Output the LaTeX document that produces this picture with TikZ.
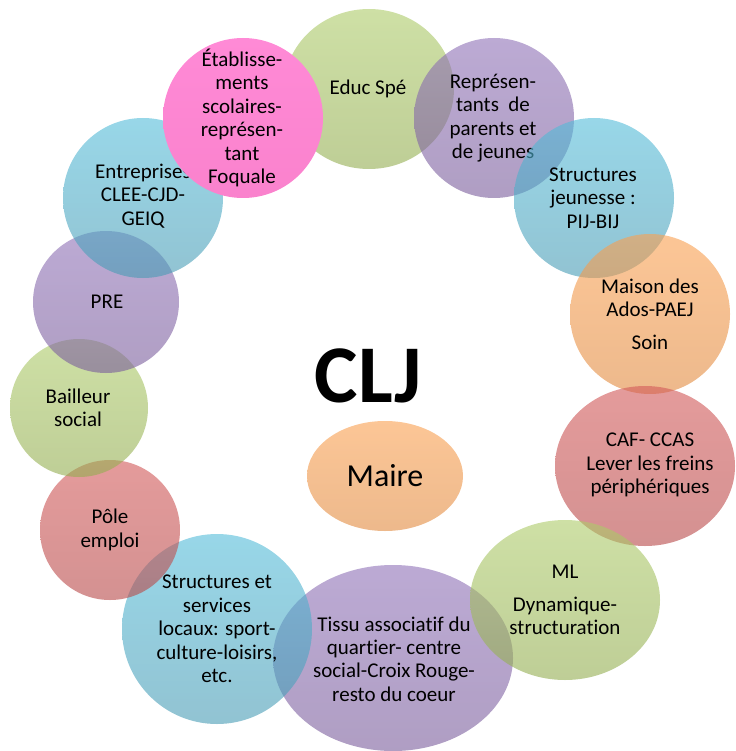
\documentclass[tikz,border=0pt]{standalone}
\usepackage{fontspec}
\setmainfont{Carlito}[Ligatures=NoCommon]
\definecolor{grnTop}{RGB}{173,203,105}
\definecolor{grnBot}{RGB}{147,173,80}
\definecolor{purTop}{RGB}{143,113,183}
\definecolor{purBot}{RGB}{122,93,155}
\definecolor{bluTop}{RGB}{83,188,217}
\definecolor{bluBot}{RGB}{72,155,180}
\definecolor{orgTop}{RGB}{250,160,80}
\definecolor{orgBot}{RGB}{225,138,63}
\definecolor{redTop}{RGB}{210,88,88}
\definecolor{redBot}{RGB}{183,72,72}
\definecolor{pnkTop}{RGB}{255,138,214}
\definecolor{pnkBot}{RGB}{250,130,205}
\begin{document}
\begin{tikzpicture}[x=1pt, y=-1pt,
    blob/.style={fill opacity=0.6},
    green/.style={blob, top color=grnTop, bottom color=grnBot},
    purple/.style={blob, top color=purTop, bottom color=purBot},
    blue/.style={blob, top color=bluTop, bottom color=bluBot},
    orange/.style={blob, top color=orgTop, bottom color=orgBot},
    red/.style={blob, top color=redTop, bottom color=redBot},
    lbl/.style={align=center, inner sep=0pt, font=\fontsize{21}{23.4}\selectfont}]
  \useasboundingbox (0,0) rectangle (735,751);

  % cercle du haut
  \shade[green] (369,89) ellipse (85 and 80);
  \node[lbl] (educ) at (368,89) {Educ Spé};

  \shade[purple] (494,118) ellipse (80 and 80);
  \node[lbl] (parents) at (493,118) {Représen-\\tants~ de\\parents et\\de jeunes};

  \shade[blue] (594,198) ellipse (80 and 80);
  \node[lbl] (jeunesse) at (593,198) {Structures\\jeunesse :\\PIJ-BIJ};

  \shade[orange] (650,314) ellipse (80 and 80);
  \node[lbl] (ados) at (650,314) {Maison des\\Ados-PAEJ\\[9pt]Soin};

  \shade[red] (645,466) ellipse (90 and 80);
  \node[lbl] (caf) at (650,465) {CAF- CCAS\\Lever les freins\\périphériques};

  % bas
  \shade[purple] (393,658) ellipse (120 and 93);
  \node[lbl] (tissu) at (394,659) {Tissu associatif du\\quartier- centre\\social-Croix Rouge-\\resto du coeur};

  \shade[green] (565,600) ellipse (95 and 80);
  \node[lbl] (ml) at (565,600) {ML\\[9pt]Dynamique-\\structuration};

  \shade[blue] (217,629) ellipse (95 and 95);
  \node[lbl] (locaux) at (217,629) {Structures et\\services\\locaux: sport-\\culture-loisirs,\\etc.};

  % gauche
  \shade[red] (110,530) ellipse (70 and 70);
  \node[lbl] (pole) at (110,530) {Pôle\\emploi};

  \shade[green] (79,408) ellipse (69 and 69);
  \node[lbl] (bailleur) at (78,408) {Bailleur\\social};

  \shade[purple] (106,302) ellipse (73 and 71);
  \node[lbl] (pre) at (107,302) {PRE};

  \shade[blue] (143,198) ellipse (80 and 80);
  \node[lbl] (entreprises) at (143,196) {Entreprises\\CLEE-CJD-\\GEIQ};

  \shade[top color=pnkTop, bottom color=pnkBot] (243,118) ellipse (80 and 80);
  \node[lbl] (etab) at (242,118) {Établisse-\\ments\\scolaires-\\représen-\\tant\\Foquale};

  % centre
  \node[anchor=base, font=\fontsize{82}{90}\selectfont\bfseries] (clj) at (368,402) {CLJ};
  \shade[orange] (385,476) ellipse (78 and 55);
  \node[lbl, font=\fontsize{32}{38}\selectfont] (maire) at (385,476) {Maire};
\end{tikzpicture}
\end{document}
